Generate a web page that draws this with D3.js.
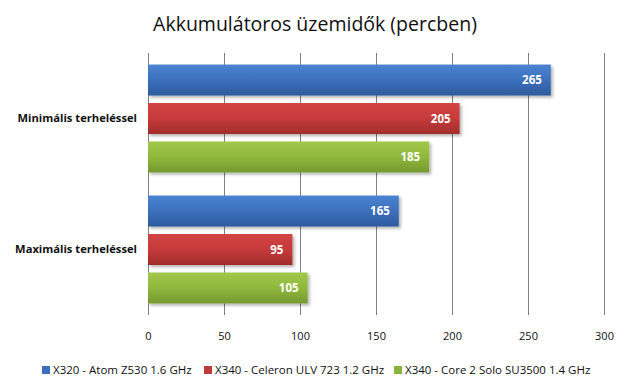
<!DOCTYPE html>
<html><head><meta charset="utf-8">
<script src="https://cdn.jsdelivr.net/npm/d3@7"></script>
<style>body{margin:0;background:#fff;} svg{display:block;}</style>
</head><body>
<script>
const categories = ["Minimális terheléssel", "Maximális terheléssel"];
const seriesNames = ["X320 - Atom Z530 1.6 GHz", "X340 - Celeron ULV 723 1.2 GHz", "X340 - Core 2 Solo SU3500 1.4 GHz"];
const atomValues = [265, 165];
const celeronValues = [205, 95];
const core2Values = [185, 105];
const xTicks = [0, 50, 100, 150, 200, 250, 300];
const titleText = "Akkumulátoros üzemidők (percben)";

(function () {
const series = [atomValues, celeronValues, core2Values];
const colors = [
  {top:"#4a83d0", mid:"#3c70bd", bot:"#2c5a9c", solid:"#3c6fbd"},
  {top:"#d44444", mid:"#c53a3a", bot:"#a22c2c", solid:"#c0393b"},
  {top:"#a2c84a", mid:"#8fb83c", bot:"#76992f", solid:"#8bb23e"}
];

const W = 630, H = 392;
const svg = d3.select("body").append("svg").attr("width", W).attr("height", H);
const defs = svg.append("defs");
colors.forEach((c, i) => {
  const g = defs.append("linearGradient").attr("id", "g" + i).attr("x1", 0).attr("y1", 0).attr("x2", 0).attr("y2", 1);
  g.append("stop").attr("offset", "0%").attr("stop-color", c.top);
  g.append("stop").attr("offset", "50%").attr("stop-color", c.mid);
  g.append("stop").attr("offset", "100%").attr("stop-color", c.bot);
});
const f = defs.append("filter").attr("id", "sh").attr("x", "-5%").attr("y", "-20%").attr("width", "115%").attr("height", "160%");
f.append("feDropShadow").attr("dx", 2).attr("dy", 2).attr("stdDeviation", 1.5).attr("flood-color", "#000").attr("flood-opacity", 0.3);

const mLeft = 148, mRight = 604, mTop = 53, mBottom = 315;
const x = d3.scaleLinear().domain([0, 300]).range([mLeft, mRight]);
const y0 = d3.scaleBand().domain(categories).range([mTop, mBottom]).paddingInner(0).paddingOuter(0);
const y1 = d3.scaleBand().domain(d3.range(3)).range([0, y0.bandwidth()]).paddingInner(0.195).paddingOuter(0.3);

svg.append("text").attr("x", 315).attr("y", 31).attr("text-anchor", "middle")
  .attr("font-family", "'Open Sans', sans-serif").attr("font-size", 19.5).attr("fill", "#111")
  .text(titleText);

svg.append("g").selectAll("line").data(xTicks).join("line")
  .attr("x1", d => x(d)).attr("x2", d => x(d)).attr("y1", mTop).attr("y2", mBottom)
  .attr("stroke", "#7f7f7f").attr("stroke-width", 1).attr("shape-rendering", "crispEdges");

const xAxis = d3.axisBottom(x).tickValues(xTicks).tickSize(0).tickPadding(0);
const ax = svg.append("g").attr("transform", `translate(0,${mBottom + 21})`).call(xAxis);
ax.select(".domain").remove();
ax.selectAll("text").attr("font-family", "'Open Sans', sans-serif").attr("font-size", 11).attr("fill", "#111").attr("dy", "0.35em");

svg.append("g").selectAll("text").data(categories).join("text")
  .attr("x", 137).attr("y", d => y0(d) + y0.bandwidth() / 2).attr("dy", "0.35em")
  .attr("text-anchor", "end").attr("font-family", "'Open Sans', sans-serif")
  .attr("font-size", 11.2).attr("font-weight", "bold").attr("fill", "#111").text(d => d);

categories.forEach((cat, ci) => {
  const g = svg.append("g");
  series.forEach((vals, si) => {
    const by = y0(cat) + y1(si);
    g.append("rect").attr("x", x(0)).attr("y", by).attr("width", x(vals[ci]) - x(0)).attr("height", y1.bandwidth())
      .attr("fill", `url(#g${si})`).attr("filter", "url(#sh)");
    g.append("text").attr("x", x(vals[ci]) - 9).attr("y", by + y1.bandwidth() / 2).attr("dy", "0.35em")
      .attr("text-anchor", "end").attr("font-family", "'Open Sans', sans-serif").attr("font-size", 11.5)
      .attr("font-weight", "bold").attr("fill", "#fff").text(vals[ci]);
  });
});

const legendX = [42, 204, 394];
const lg = svg.append("g");
seriesNames.forEach((n, i) => {
  lg.append("rect").attr("x", legendX[i]).attr("y", 366).attr("width", 8).attr("height", 8).attr("fill", colors[i].solid);
  lg.append("text").attr("x", legendX[i] + 11).attr("y", 370).attr("dy", "0.35em")
    .attr("font-family", "'Open Sans', sans-serif").attr("font-size", 11.5).attr("fill", "#111").text(n);
});
})();
</script>
</body></html>
